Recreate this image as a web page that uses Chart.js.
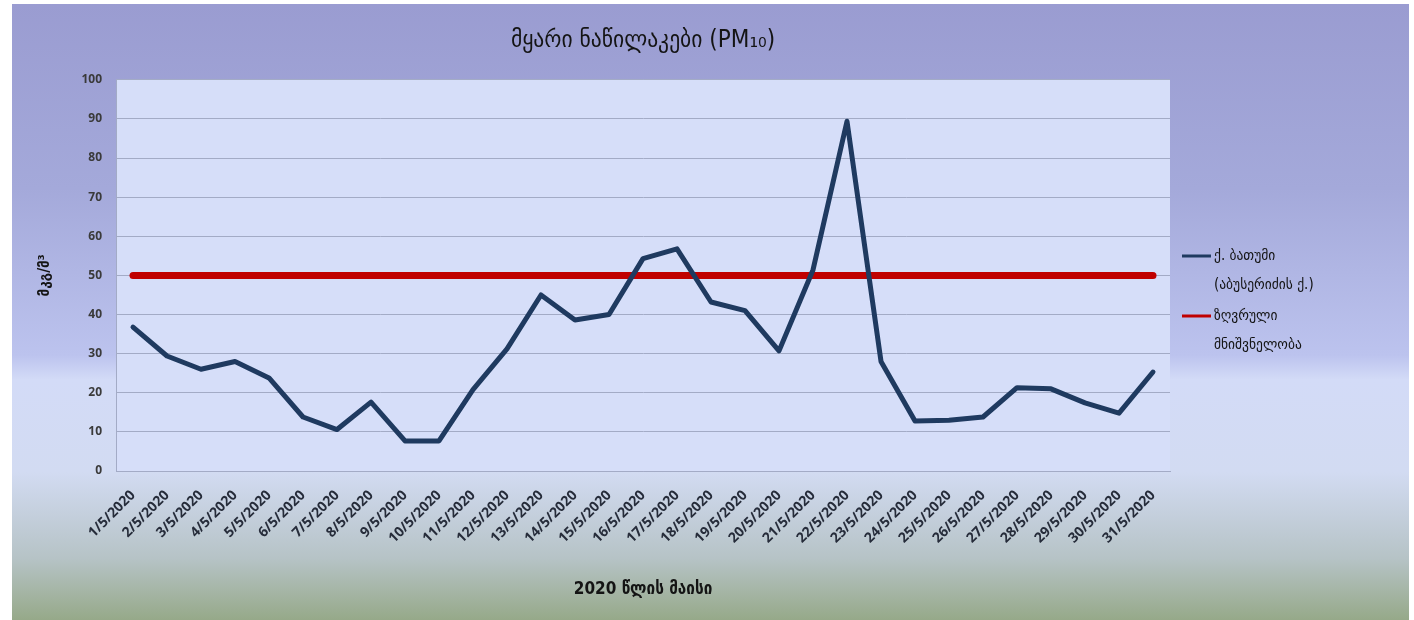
<!DOCTYPE html>
<html>
<head>
<meta charset="utf-8">
<script src="https://cdn.jsdelivr.net/npm/chart.js@4.4.1/dist/chart.umd.min.js"></script>
<style>
  html, body { margin: 0; padding: 0; background: #fff; }
  #frame {
    position: absolute; left: 12px; top: 4px; width: 1397px; height: 616px;
    background: linear-gradient(to bottom, #9a9cd1 0%, #a4a9da 30%, #bcc3ee 57%, #d3dbf7 61%, #d2dbf2 76%, #b6c3c6 90%, #96a989 100%);
  }
  #wrap { position: absolute; left: 0; top: 0; width: 1414px; height: 620px; }
</style>
</head>
<body>
<div id="frame"></div>
<div id="wrap"><canvas id="pm10" width="1414" height="620"></canvas></div>
<script>
const days = [
  '1/5/2020', '2/5/2020', '3/5/2020', '4/5/2020', '5/5/2020', '6/5/2020', '7/5/2020', '8/5/2020',
  '9/5/2020', '10/5/2020', '11/5/2020', '12/5/2020', '13/5/2020', '14/5/2020', '15/5/2020', '16/5/2020',
  '17/5/2020', '18/5/2020', '19/5/2020', '20/5/2020', '21/5/2020', '22/5/2020', '23/5/2020', '24/5/2020',
  '25/5/2020', '26/5/2020', '27/5/2020', '28/5/2020', '29/5/2020', '30/5/2020', '31/5/2020'
];

// daily PM10, Batumi (Abuserizde st.)
const batumi = [
  36.8, 29.4, 26.0, 28.0, 23.8, 13.8, 10.6, 17.6, 7.7, 7.7, 20.8, 31.2, 45.0, 38.6, 40.0, 54.3,
  56.8, 43.2, 41.0, 30.7, 51.4, 89.4, 28.0, 12.8, 13.0, 13.8, 21.3, 21.0, 17.4, 14.8, 25.3
];

// limit value
const limit = [
  50, 50, 50, 50, 50, 50, 50, 50, 50, 50, 50, 50, 50, 50, 50, 50,
  50, 50, 50, 50, 50, 50, 50, 50, 50, 50, 50, 50, 50, 50, 50
];

const legendLines = [
  ['ქ. ბათუმი', '(აბუსერიძის ქ.)'],
  ['ზღვრული', 'მნიშვნელობა']
];

const geoFont = "'DejaVu Sans Condensed', 'DejaVu Sans', sans-serif";
const tickFont = "'Open Sans', 'Liberation Sans', sans-serif";

// light fill behind the plot area
const plotBg = {
  id: 'plotBg',
  beforeDraw(chart) {
    const { ctx, chartArea: a } = chart;
    ctx.save();
    ctx.fillStyle = '#d6def9';
    ctx.fillRect(a.left, a.top, a.right - a.left, a.bottom - a.top);
    ctx.restore();
  }
};

// two-line legend on the right
const sideLegend = {
  id: 'sideLegend',
  afterDraw(chart) {
    const { ctx } = chart;
    const x0 = 1182, x1 = 1211;
    const rows = [256, 316];
    ctx.save();
    ctx.font = '15px ' + geoFont;
    ctx.fillStyle = '#141414';
    ctx.textBaseline = 'middle';
    chart.data.datasets.forEach((ds, i) => {
      const y = rows[i];
      ctx.strokeStyle = ds.borderColor;
      ctx.lineWidth = 3;
      ctx.beginPath();
      ctx.moveTo(x0, y);
      ctx.lineTo(x1, y);
      ctx.stroke();
      legendLines[i].forEach((t, j) => ctx.fillText(t, x1 + 3, y + j * 29));
    });
    ctx.restore();
  }
};

new Chart(document.getElementById('pm10'), {
  type: 'line',
  data: {
    labels: days,
    datasets: [
      {
        label: legendLines[0].join(' '),
        data: batumi,
        borderColor: '#1f3a60',
        borderWidth: 5,
        pointRadius: 0,
        tension: 0,
        borderCapStyle: 'round',
        borderJoinStyle: 'round'
      },
      {
        label: legendLines[1].join(' '),
        data: limit,
        borderColor: '#c00000',
        borderWidth: 7,
        pointRadius: 0,
        borderCapStyle: 'round'
      }
    ]
  },
  options: {
    responsive: false,
    animation: false,
    devicePixelRatio: 1,
    layout: { padding: { left: 12, top: 4, right: 244, bottom: 0 } },
    plugins: {
      legend: { display: false },
      tooltip: { enabled: false },
      title: {
        display: true,
        fullSize: false,
        text: 'მყარი ნაწილაკები (PM₁₀)',
        color: '#141414',
        font: { family: geoFont, size: 24, weight: 'normal' },
        padding: { top: 22, bottom: 25 }
      }
    },
    scales: {
      x: {
        offset: true,
        grid: { display: false },
        border: { color: '#a3abc6' },
        ticks: {
          color: '#262c3a',
          font: { family: tickFont, size: 14, weight: 'bold' },
          minRotation: 45,
          maxRotation: 45,
          autoSkip: false,
          padding: 8
        },
        title: {
          display: true,
          text: '2020 წლის მაისი',
          color: '#141414',
          font: { family: geoFont, size: 17, weight: 'bold' },
          padding: { top: 0, bottom: 20 }
        },
        afterFit(scale) { scale.height = 149; }
      },
      y: {
        min: 0,
        max: 100,
        ticks: {
          stepSize: 10,
          color: '#3a3a3a',
          font: { family: tickFont, size: 12, weight: 'bold' },
          padding: 14
        },
        grid: { color: '#a3abc6', drawTicks: false },
        border: { color: '#a3abc6' },
        title: {
          display: true,
          text: 'მკგ/მ³',
          color: '#141414',
          font: { family: geoFont, size: 15, weight: 'bold' },
          padding: { top: 24, bottom: 0 }
        },
        afterFit(scale) { scale.width = 104; }
      }
    }
  },
  plugins: [plotBg, sideLegend]
});
</script>
</body>
</html>
